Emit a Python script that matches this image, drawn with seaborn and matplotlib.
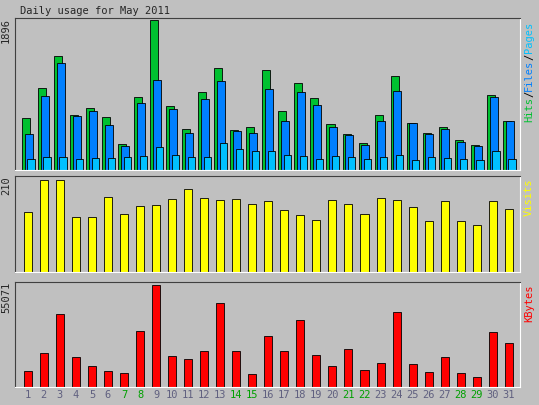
import matplotlib
matplotlib.use("Agg")
import matplotlib.pyplot as plt
import seaborn as sns
import numpy as np
import pandas as pd

sns.set_style("white")
plt.rcParams['font.family'] = ['DejaVu Sans Mono']

days = [str(d) for d in range(1, 32)]
weekend = {"7", "8", "14", "15", "21", "22", "28", "29"}
hits_px = [118,88,57,115,108,117,143,97,22,106,128,92,69,129,126,71,111,84,98,123,133,142,115,77,122,132,126,139,144,95,120]
files_px = [133,96,64,116,111,124,145,103,81,109,132,99,82,130,132,89,120,92,105,126,134,144,120,91,122,133,128,141,145,97,120]
pages_px = [157,155,155,157,156,156,155,154,146,153,155,155,142,148,150,150,153,154,157,154,155,157,155,153,158,155,156,157,158,150,157]
visits_px = [212,180,180,217,217,197,214,206,205,199,189,198,200,199,204,201,210,215,219,200,204,213,198,200,207,220,201,220,224,201,209]
kb_px = [369,352,315,356,364,369,371,331,288,355,358,350,305,350,372,336,350,321,354,364,348,368,361,313,362,370,356,371,375,332,343]

hits = [round((168 - y) / 146 * 1896) for y in hits_px]
files = [round((168 - y) / 146 * 1896) for y in files_px]
pages = [round((168 - y) / 146 * 1896) for y in pages_px]
visits = [round((270 - y) / 89 * 208) for y in visits_px]
kbytes = [round((384 - y) / 96 * 55071) for y in kb_px]

BG = "#C0C0C0"
fig = plt.figure(figsize=(5.39, 4.05), dpi=100, facecolor=BG)
W = 539; H = 405
def mkax(top, bottom):
    ax = fig.add_axes([15/W, 1 - bottom/H, 505/W, (bottom - top)/H])
    ax.set_facecolor(BG)
    for s in ["top", "left"]:
        ax.spines[s].set_color("#404040")
    for s in ["bottom", "right"]:
        ax.spines[s].set_color("white")
    ax.set_xticks([]); ax.set_yticks([])
    return ax

x = np.arange(31)
ax1 = mkax(18, 170)
ax1.bar(x - 0.12, hits, width=0.5, color="#00C030", edgecolor="black", linewidth=0.6)
ax1.bar(x + 0.05, files, width=0.5, color="#0080FF", edgecolor="black", linewidth=0.6)
ax1.bar(x + 0.2, pages, width=0.45, color="#00C0FF", edgecolor="black", linewidth=0.6)
ax1.set_xlim(-0.8, 30.7); ax1.set_ylim(0, max(hits) * 1.01)
ax1.set_xticks([]); ax1.set_yticks([])

df = pd.DataFrame({"day": days, "visits": visits, "kbytes": kbytes})
ax2 = mkax(176, 272)
sns.barplot(data=df, x="day", y="visits", color="#FFFF00", edgecolor="black", linewidth=0.6,
            width=0.5, saturation=1, ax=ax2)
ax2.set_xlim(-0.8, 30.7); ax2.set_ylim(0, max(visits) * 1.04)
ax2.set_xticks([]); ax2.set_yticks([]); ax2.set_xlabel(""); ax2.set_ylabel("")

ax3 = mkax(282, 387)
sns.barplot(data=df, x="day", y="kbytes", color="#FF0000", edgecolor="black", linewidth=0.6,
            width=0.5, saturation=1, ax=ax3)
ax3.set_xlim(-0.8, 30.7); ax3.set_ylim(0, max(kbytes) * 1.03)
ax3.set_xticks([]); ax3.set_yticks([]); ax3.set_xlabel(""); ax3.set_ylabel("")

fs = 7.5
fig.text(20/W, 1 - 11/H, "Daily usage for May 2011", fontsize=fs, va="center", ha="left")
for ax, v in [(ax1, max(hits)), (ax2, max(visits)), (ax3, max(kbytes))]:
    ax.text(-0.018, 1.0, str(v), transform=ax.transAxes, rotation=90, fontsize=fs, ha="center", va="top")

# right label with multiple colours, placed in figure pixel coordinates
char_px = 0.602 * fs * 100 / 72
ypix = 22
for t, c in [("Pages", "#00C0FF"), ("/", "black"), ("Files", "#0080FF"), ("/", "black"), ("Hits", "#00C030")]:
    fig.text(529/W, 1 - ypix/H, t, rotation=90, fontsize=fs, color=c, ha="center", va="top")
    ypix += len(t) * char_px
fig.text(529/W, 1 - 178/H, "Visits", rotation=90, fontsize=fs, color="#FFFF00", ha="center", va="top")
fig.text(529/W, 1 - 285/H, "KBytes", rotation=90, fontsize=fs, color="#FF0000", ha="center", va="top")

for i, d in enumerate(days):
    col = "#00A000" if d in weekend else "#606080"
    ax3.text(i, -0.08, d, transform=ax3.get_xaxis_transform(), fontsize=fs, color=col, ha="center", va="center")

fig.savefig("out.png", dpi=100, facecolor=BG)
